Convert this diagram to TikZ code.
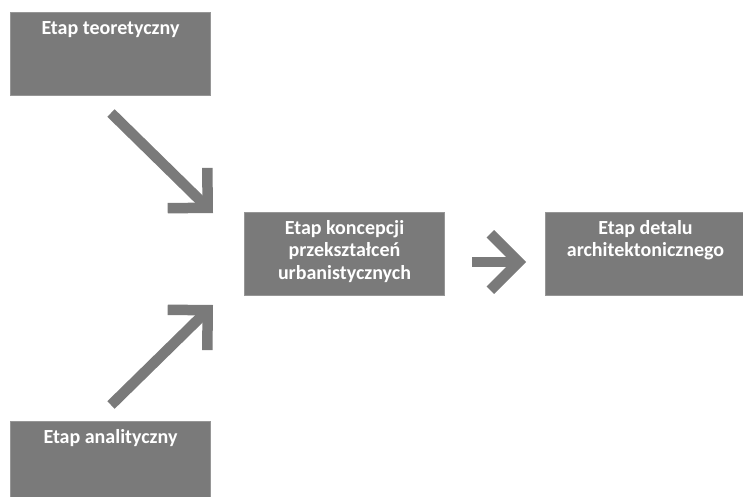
\documentclass[tikz,border=0pt]{standalone}
\usepackage{fontspec}
\setmainfont{Carlito}
\usepackage{xcolor}
\usepackage{tikz}
\usetikzlibrary{positioning,arrows.meta}

\definecolor{boxgray}{RGB}{122,122,122}
\definecolor{edgegray}{RGB}{150,150,150}

\tikzset{
  etapbox/.style = {fill = boxgray, draw = edgegray, line width = 0.6pt,
    minimum width = 200pt, minimum height = 83pt, inner sep = 0pt, outer sep = 0pt},
  etaptext/.style = {anchor = north, text = white, align = center,
    font = \bfseries\fontsize{20}{22.5}\selectfont,
    execute at begin node = \rule{0pt}{14pt},
    inner xsep = 2pt, inner ysep = 8pt},
  bigarrow/.style = {draw = boxgray, line width = 10.5pt,
    -{Straight Barb[angle = 90:40pt]}},
}

\begin{document}
\begin{tikzpicture}[x = 1pt, y = -1pt]
    \clip (0,0) rectangle (743,497);

    \node[etapbox] (teor) at (110.5,53.5) {};
    \node[etapbox, below right = 117pt and 34pt of teor] (konc) {};
    \node[etapbox, right = 101pt of konc] (detal) {};
    \node[etapbox, below = 326pt of teor] (anal) {};

    \node[etaptext] (teor-t) at (teor.north) {Etap teoretyczny};
    \node[etaptext] (konc-t) at (konc.north) {Etap koncepcji\\przekształceń\\urbanistycznych};
    \node[etaptext] (detal-t) at (detal.north) {Etap detalu\\architektonicznego};
    \node[etaptext] (anal-t) at (anal.north) {Etap analityczny};

    % arrows between the stages
    \coordinate (a1) at (111,113);
    \coordinate (b1) at (213,213);
    \coordinate (a2) at (111,405);
    \coordinate (b2) at (213,305);
    \coordinate (a3) at (472,262);
    \coordinate (b3) at (526,262);

    \draw[bigarrow] (a1) -- (b1);
    \draw[bigarrow] (a2) -- (b2);
    \draw[bigarrow] (a3) -- (b3);
\end{tikzpicture}
\end{document}
